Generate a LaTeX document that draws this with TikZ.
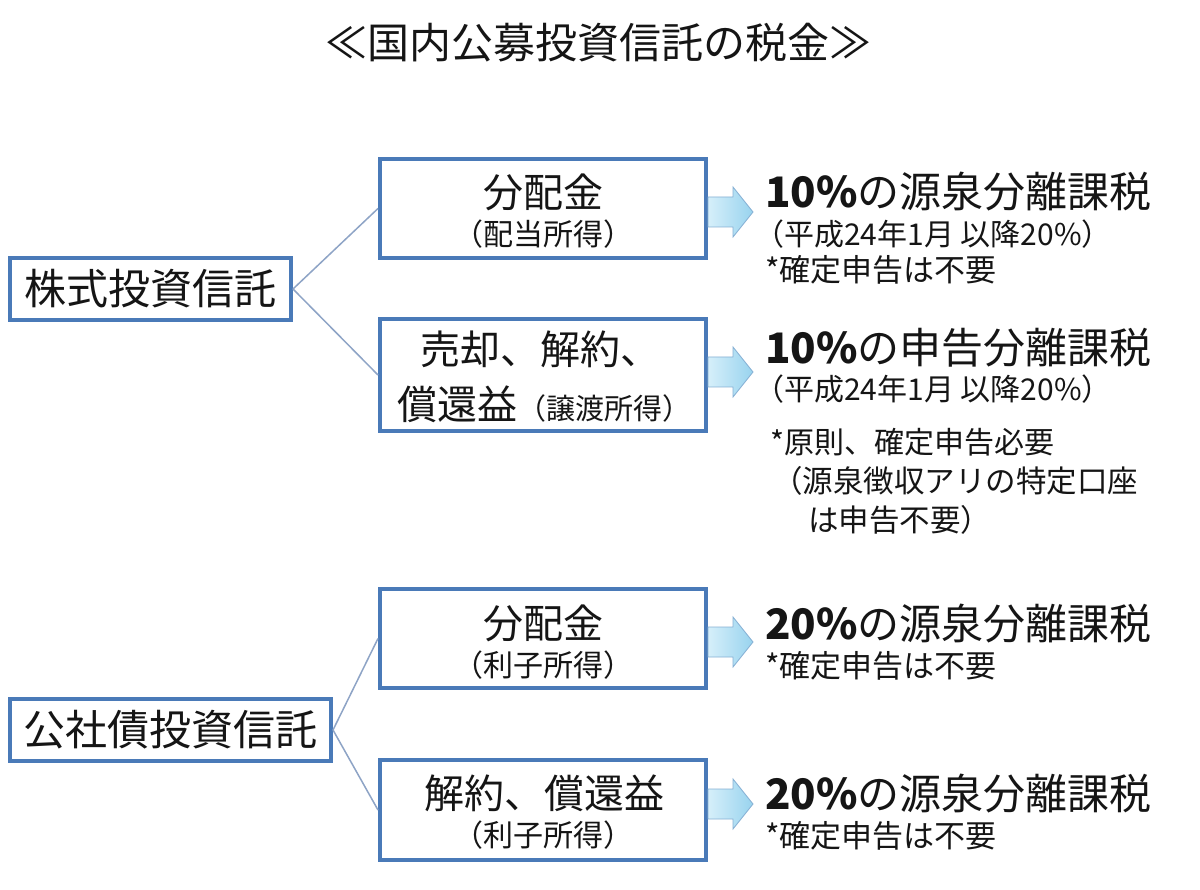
\documentclass[tikz,border=0pt]{standalone}
\usepackage{fontspec}
\newfontfamily\jp{Noto Sans CJK JP}
\usetikzlibrary{calc}
\definecolor{boxblue}{HTML}{4A7AB8}
\definecolor{linegray}{HTML}{8EA4C6}
\definecolor{arrowL}{HTML}{D6EFFA}
\definecolor{arrowR}{HTML}{98D3EE}
\definecolor{arrowEdge}{HTML}{86B0D4}
\definecolor{ink}{HTML}{151515}
\newcommand\fsz[1]{\fontsize{#1}{#1}\selectfont}
\newcommand\bluearrow[2]{%
  \draw[blk] ($(#1.east)+(0,#2-15)$) -- ++(25,0) -- ++(0,-10) -- ++(20,25) -- ++(-20,25) -- ++(0,-10) -- ++(-25,0) -- cycle;}
\tikzset{
  box/.style={draw=boxblue, line width=4pt, fill=white, inner sep=0pt, text=ink},
  t/.style={inner sep=0pt, text=ink, font=\jp\fsz{#1}},
  conn/.style={draw=linegray, line width=1.5pt},
  blk/.style={draw=arrowEdge, line width=0.8pt, left color=arrowL, right color=arrowR},
}
\begin{document}
\begin{tikzpicture}[x=1pt, y=-1pt]
\useasboundingbox[fill=white] (0,0) rectangle (1200,890);

% title
\node[t=42, anchor=base] (title) at (598,59) {≪国内公募投資信託の税金≫};

% left boxes
\node[box, minimum width=281, minimum height=62, font=\jp\fsz{42}] (A) at (150.5,289) {株式投資信託};
\node[box, minimum width=321, minimum height=62, font=\jp\fsz{42}] (B) at (170.5,730) {公社債投資信託};

% middle boxes
\node[box, minimum width=326, minimum height=99]  (b1) at (543,208.5) {};
\node[box, minimum width=326, minimum height=112] (b2) at (543,375) {};
\node[box, minimum width=326, minimum height=99]  (b3) at (543,638.5) {};
\node[box, minimum width=326, minimum height=100] (b4) at (543,810) {};

% box texts
\node[t=40, anchor=base] (b1a) at (543,208) {分配金};
\node[t=30, anchor=base] (b1b) at (543,246) {（配当所得）};
\node[t=40, anchor=base] (b2a) at (540,365) {売却、解約、};
\node[t=40, anchor=base] (b2b) at (544,420) {償還益{\fsz{29}（譲渡所得）}};
\node[t=40, anchor=base] (b3a) at (543,638) {分配金};
\node[t=30, anchor=base] (b3b) at (543,676) {（利子所得）};
\node[t=40, anchor=base] (b4a) at (544,808) {解約、償還益};
\node[t=30, anchor=base] (b4b) at (543,846) {（利子所得）};

% connectors
\draw[conn] (A.east) -- (b1.west);
\draw[conn] (A.east) -- (b2.west);
\draw[conn] (B.east) -- (b3.west);
\draw[conn] (B.east) -- (b4.west);

% block arrows
\bluearrow{b1}{3.5}
\bluearrow{b2}{-3}
\bluearrow{b3}{3.5}
\bluearrow{b4}{-6}

% right texts
\node[t=42, anchor=base west] (r1a) at (765,208) {{\bfseries 10\%}の源泉分離課税};
\node[t=30, anchor=base west] (r1b) at (754,246) {（平成24年1月 以降20\%）};
\node[t=31, anchor=base west] (r1c) at (765,282) {*確定申告は不要};

\node[t=42, anchor=base west] (r2a) at (765,364) {{\bfseries 10\%}の申告分離課税};
\node[t=30, anchor=base west] (r2b) at (754,401) {（平成24年1月 以降20\%）};
\node[t=30, anchor=base west] (r2c) at (770,454) {*原則、確定申告必要};
\node[t=30.5, anchor=base west] (r2d) at (772,493) {（源泉徴収アリの特定口座};
\node[t=30.5, anchor=base west] (r2e) at (808,531) {は申告不要）};

\node[t=42, anchor=base west] (r3a) at (765,639) {{\bfseries 20\%}の源泉分離課税};
\node[t=31, anchor=base west] (r3b) at (765,677) {*確定申告は不要};

\node[t=42, anchor=base west] (r4a) at (765,809) {{\bfseries 20\%}の源泉分離課税};
\node[t=31, anchor=base west] (r4b) at (765,847) {*確定申告は不要};
\end{tikzpicture}
\end{document}
